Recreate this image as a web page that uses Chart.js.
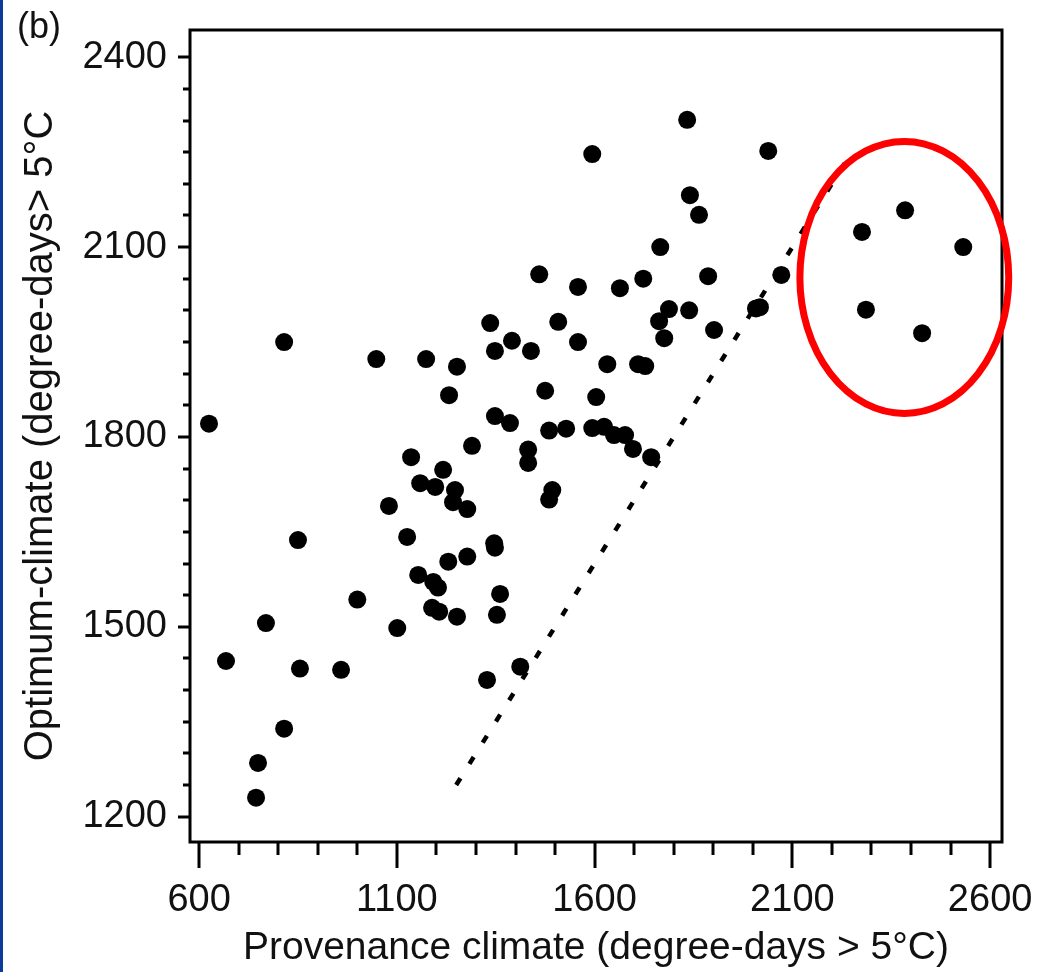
<!DOCTYPE html>
<html>
<head>
<meta charset="utf-8">
<title>Provenance vs optimum climate</title>
<script src="https://cdn.jsdelivr.net/npm/chart.js@4.4.1/dist/chart.umd.min.js"></script>
<style>
  html, body { margin: 0; padding: 0; background: #fff; }
  #wrap { width: 1038px; height: 972px; position: relative; }
</style>
</head>
<body>
<div id="wrap"><canvas id="myChart"></canvas></div>
<script>
// degree-days > 5°C, one point per provenance
const provenance = [
  625, 668, 744, 749, 769, 815, 815, 850, 855, 959,
  1000, 1048, 1080, 1101, 1126, 1136, 1154, 1159, 1174, 1189,
  1192, 1197, 1204, 1207, 1217, 1230, 1232, 1242, 1247, 1252,
  1252, 1278, 1278, 1290, 1328, 1336, 1346, 1348, 1348, 1348,
  1353, 1361, 1386, 1391, 1412, 1432, 1432, 1439, 1460, 1475,
  1485, 1485, 1493, 1508, 1528, 1558, 1558, 1594, 1594, 1604,
  1624, 1632, 1649, 1664, 1677, 1697, 1710, 1723, 1728, 1743,
  1763, 1766, 1776, 1788, 1834, 1839, 1841, 1864, 1887, 1902,
  2008, 2018, 2039, 2072, 2276, 2286, 2385, 2428, 2532
];
const optimum = [
  1821, 1446, 1230, 1285, 1506, 1950, 1339, 1637, 1434, 1432,
  1543, 1923, 1691, 1498, 1642, 1768, 1582, 1727, 1923, 1530,
  1571, 1721, 1562, 1524, 1748, 1603, 1866, 1697, 1716, 1911,
  1516, 1686, 1611, 1786, 1416, 1980, 1632, 1625, 1936, 1833,
  1519, 1552, 1822, 1952, 1437, 1780, 1759, 1936, 2057, 1873,
  1810, 1701, 1716, 1982, 1813, 2037, 1950, 2247, 1814, 1863,
  1816, 1915, 1803, 2035, 1803, 1781, 1915, 2050, 1912, 1768,
  1983, 2100, 1956, 2002, 2301, 2000, 2182, 2151, 2054, 1969,
  2003, 2005, 2252, 2056, 2124, 2001, 2158, 1964, 2100
];

const xTicks = [600, 1100, 1600, 2100, 2600];
const yTicks = [1200, 1500, 1800, 2100, 2400];
const xMinorStep = 100;
const yMinorStep = 50;

// dotted 1:1 line, start and end
const oneToOne = [1250, 2250];

// red ring around the warm provenances (data units)
const ring = { x: 2383, y: 2052, rx: 264, ry: 215 };

const FONT = "'Liberation Sans', Arial, Helvetica, sans-serif";

const points = provenance.map((v, i) => ({ x: v, y: optimum[i] }));

const decorations = {
    id: 'decorations',
    afterDraw(chart) {
        const ctx = chart.ctx;
        const a = chart.chartArea;
        const x = chart.scales.x;
        const y = chart.scales.y;
        ctx.save();

        // frame
        ctx.strokeStyle = '#000';
        ctx.lineWidth = 3;
        ctx.strokeRect(a.left, a.top, a.right - a.left, a.bottom - a.top);

        // tick marks, long at labelled values
        ctx.beginPath();
        for (let v = xTicks[0]; v <= xTicks[xTicks.length - 1]; v += xMinorStep) {
            const px = Math.round(x.getPixelForValue(v));
            const len = xTicks.includes(v) ? 26 : 13;
            ctx.moveTo(px, a.bottom);
            ctx.lineTo(px, a.bottom + len);
        }
        for (let v = yTicks[0]; v <= yTicks[yTicks.length - 1]; v += yMinorStep) {
            const py = Math.round(y.getPixelForValue(v));
            const len = yTicks.includes(v) ? 12 : 7;
            ctx.moveTo(a.left, py);
            ctx.lineTo(a.left - len, py);
        }
        ctx.stroke();

        // red ring
        const cx = x.getPixelForValue(ring.x);
        const cy = y.getPixelForValue(ring.y);
        const rx = Math.abs(x.getPixelForValue(ring.x + ring.rx) - cx);
        const ry = Math.abs(y.getPixelForValue(ring.y + ring.ry) - cy);
        ctx.strokeStyle = '#ff0000';
        ctx.lineWidth = 7;
        ctx.beginPath();
        ctx.ellipse(cx, cy, rx, ry, 0, 0, Math.PI * 2);
        ctx.stroke();

        // panel letter
        ctx.fillStyle = '#111';
        ctx.font = '36px ' + FONT;
        ctx.textBaseline = 'top';
        ctx.textAlign = 'left';
        ctx.fillText('(b)', 17, 10);

        // blue strip on the left edge
        ctx.fillStyle = '#0c3b9b';
        ctx.fillRect(0, 0, 3, chart.height);
        ctx.restore();
    }
};

const ctx = document.getElementById('myChart').getContext('2d');
new Chart(ctx, {
    type: 'scatter',
    data: {
        datasets: [
            {
                type: 'line',
                data: oneToOne.map(v => ({ x: v, y: v })),
                borderColor: '#000',
                borderWidth: 4.5,
                borderDash: [8, 17],
                pointRadius: 0,
                fill: false
            },
            {
                data: points,
                backgroundColor: '#000',
                borderWidth: 0,
                pointRadius: 9,
                pointHoverRadius: 9
            }
        ]
    },
    options: {
        responsive: true,
        maintainAspectRatio: false,
        devicePixelRatio: 1,
        animation: false,
        events: [],
        layout: { padding: { left: 0, top: 30, right: 36, bottom: 0 } },
        plugins: {
            legend: { display: false },
            tooltip: { enabled: false }
        },
        scales: {
            x: {
                type: 'linear',
                min: 577,
                max: 2630,
                afterBuildTicks: s => { s.ticks = xTicks.map(v => ({ value: v })); },
                afterFit: s => {
                    s.height = 130;
                    s.paddingLeft = 0;
                    s.paddingRight = 0;
                },
                grid: { display: false, drawTicks: false },
                border: { display: false },
                ticks: {
                    font: { size: 38, family: FONT },
                    color: '#111',
                    padding: 36,
                    maxRotation: 0,
                    autoSkip: false,
                    callback: v => String(v)
                },
                title: {
                    display: true,
                    text: 'Provenance climate (degree-days > 5°C)',
                    font: { size: 39, family: FONT },
                    color: '#111',
                    padding: { top: 0, bottom: 0 }
                }
            },
            y: {
                type: 'linear',
                min: 1160,
                max: 2443,
                afterBuildTicks: s => { s.ticks = yTicks.map(v => ({ value: v })); },
                afterFit: s => {
                    s.width = 190;
                    s.paddingTop = 0;
                    s.paddingBottom = 0;
                },
                grid: { display: false, drawTicks: false },
                border: { display: false },
                ticks: {
                    font: { size: 38, family: FONT },
                    color: '#111',
                    padding: 23,
                    autoSkip: false,
                    callback: v => String(v)
                },
                title: {
                    display: true,
                    text: 'Optimum-climate (degree-days> 5°C',
                    font: { size: 40, family: FONT },
                    color: '#111',
                    padding: { top: 17, bottom: 0 }
                }
            }
        }
    },
    plugins: [decorations]
});
</script>
</body>
</html>
